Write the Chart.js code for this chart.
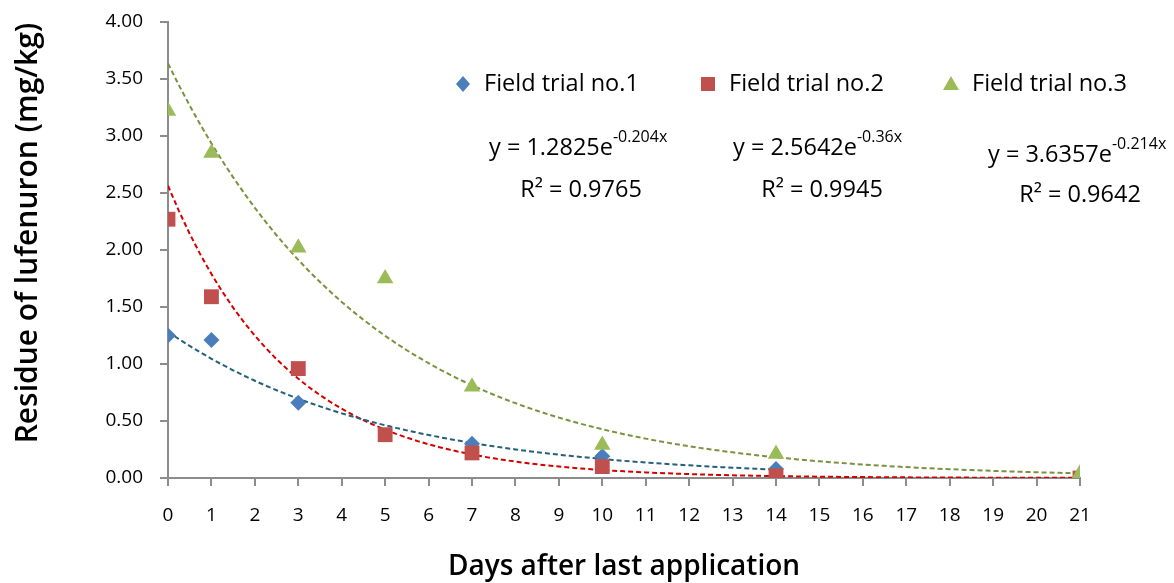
<!DOCTYPE html>
<html>
<head>
<meta charset="utf-8">
<script src="https://cdn.jsdelivr.net/npm/chart.js@4"></script>
<style>
  html, body { margin: 0; padding: 0; background: #fff; }
  #wrap { width: 1174px; height: 583px; }
</style>
</head>
<body>
<div id="wrap"><canvas id="grafica"></canvas></div>
<script>
// Datos
const dias1 = [0, 1, 3, 7, 10, 14];
const residuo1 = [1.25, 1.21, 0.66, 0.30, 0.19, 0.08];
const dias2 = [0, 1, 3, 5, 7, 10, 14, 21];
const residuo2 = [2.27, 1.59, 0.96, 0.38, 0.22, 0.10, 0.02, 0.00];
const dias3 = [0, 1, 3, 5, 7, 10, 14, 21];
const residuo3 = [3.22, 2.85, 2.02, 1.75, 0.80, 0.29, 0.21, 0.04];

const nombres = ['Field trial no.1', 'Field trial no.2', 'Field trial no.3'];
// Coeficientes de la linea de tendencia (y = a e^(b x)), hasta el dia indicado
const tendA = [1.2825, 2.5642, 3.6357];
const tendB = [-0.204, -0.36, -0.214];
const tendFin = [14, 21, 21];
const ecuaciones = ['1.2825e', '2.5642e', '3.6357e'];
const exponentes = ['-0.204x', '-0.36x', '-0.214x'];
const r2 = ['0.9765', '0.9945', '0.9642'];

const tituloX = 'Days after last application';
const tituloY = 'Residue of lufenuron (mg/kg)';

const colores = ['#4a7ebb', '#c0504d', '#9bbb59'];
const coloresTend = ['#24607a', '#d40000', '#77933c'];
const formas = ['rectRot', 'rect', 'triangle'];
const radios = [8, 10.5, 9.5];
const FUENTE = '"Open Sans", "Noto Sans", sans-serif';

function puntos(xs, ys) {
    return xs.map((x, i) => ({ x: x, y: ys[i] }));
}

function tendencia(i) {
    const pts = [];
    for (let x = 0; x <= tendFin[i] + 1e-9; x += 0.25) {
        pts.push({ x: x, y: tendA[i] * Math.exp(tendB[i] * x) });
    }
    return pts;
}

const series = [puntos(dias1, residuo1), puntos(dias2, residuo2), puntos(dias3, residuo3)];

const datasets = [];
// lineas de tendencia primero (debajo de los marcadores)
[0, 1, 2].forEach(i => {
    datasets.push({
        label: 'tend' + i,
        data: tendencia(i),
        showLine: true,
        borderColor: coloresTend[i],
        borderWidth: 2,
        borderDash: [5, 3],
        pointRadius: 0,
        fill: false,
        order: 10
    });
});
[0, 1, 2].forEach(i => {
    datasets.push({
        label: nombres[i],
        data: series[i],
        showLine: false,
        pointStyle: formas[i],
        pointRadius: radios[i],
        pointBackgroundColor: colores[i],
        pointBorderColor: colores[i],
        pointBorderWidth: 0,
        order: 3 - i
    });
});

// Leyenda, ecuaciones y titulos dibujados a mano
const anotaciones = {
    id: 'anotaciones',
    afterDraw(chart) {
        const ctx = chart.ctx;
        const area = chart.chartArea;
        ctx.save();
        ctx.fillStyle = '#000';
        ctx.textBaseline = 'middle';
        ctx.font = '23.5px ' + FUENTE;
        const legX = [463, 708, 951];
        legX.forEach((x, i) => {
            const y = 84;
            ctx.fillStyle = colores[i];
            ctx.beginPath();
            if (i === 0) {
                ctx.moveTo(x, y - 8); ctx.lineTo(x + 7, y); ctx.lineTo(x, y + 8); ctx.lineTo(x - 7, y);
            } else if (i === 1) {
                ctx.rect(x - 7, y - 7, 14, 14);
            } else {
                ctx.moveTo(x, y - 8); ctx.lineTo(x + 8, y + 6); ctx.lineTo(x - 8, y + 6);
            }
            ctx.closePath();
            ctx.fill();
            ctx.fillStyle = '#000';
            ctx.textAlign = 'left';
            ctx.fillText(nombres[i], x + 21, y);
        });

        const eqX = [489, 733, 988];
        const eqY = [148, 148, 155];
        const rX = [581, 822, 1080];
        const rY = [190, 190, 195];
        eqX.forEach((x, i) => {
            ctx.textAlign = 'left';
            ctx.font = '23.5px ' + FUENTE;
            const base = 'y = ' + ecuaciones[i];
            ctx.fillText(base, x, eqY[i]);
            const w = ctx.measureText(base).width;
            ctx.font = '16px ' + FUENTE;
            ctx.fillText(exponentes[i], x + w, eqY[i] - 11);
            ctx.font = '23.5px ' + FUENTE;
            ctx.textAlign = 'center';
            ctx.fillText('R² = ' + r2[i], rX[i], rY[i]);
        });

        // titulos de ejes
        ctx.font = '600 28px ' + FUENTE;
        ctx.textAlign = 'center';
        ctx.fillText(tituloX, (area.left + area.right) / 2, 567);
        ctx.translate(28, 233);
        ctx.rotate(-Math.PI / 2);
        ctx.font = '600 30px ' + FUENTE;
        ctx.fillText(tituloY, 0, 0);
        ctx.restore();
    }
};

const ctx = document.getElementById('grafica').getContext('2d');
new Chart(ctx, {
    type: 'scatter',
    data: { datasets: datasets },
    options: {
        responsive: true,
        maintainAspectRatio: false,
        animation: false,
        layout: { padding: { top: 22, right: 94, bottom: 0, left: 8 } },
        plugins: {
            legend: { display: false },
            tooltip: { enabled: false }
        },
        scales: {
            x: {
                type: 'linear',
                min: 0,
                max: 21,
                ticks: {
                    stepSize: 1,
                    color: '#000',
                    font: { family: FUENTE, size: 19 },
                    padding: 18,
                    maxRotation: 0,
                    autoSkip: false
                },
                grid: {
                    drawOnChartArea: false,
                    drawTicks: true,
                    tickLength: 8,
                    color: '#8c8c8c',
                    lineWidth: 2
                },
                border: { color: '#8c8c8c', width: 2 },
                afterFit: s => { s.height = 105; s.paddingLeft = 0; s.paddingRight = 0; }
            },
            y: {
                min: 0,
                max: 4,
                ticks: {
                    stepSize: 0.5,
                    color: '#000',
                    font: { family: FUENTE, size: 19 },
                    padding: 17,
                    callback: v => v.toFixed(2)
                },
                grid: {
                    drawOnChartArea: false,
                    drawTicks: true,
                    tickLength: 8,
                    color: '#8c8c8c',
                    lineWidth: 2
                },
                border: { color: '#8c8c8c', width: 2 },
                afterFit: s => { s.width = 160; s.paddingTop = 0; s.paddingBottom = 0; }
            }
        }
    },
    plugins: [anotaciones]
});
</script>
</body>
</html>
